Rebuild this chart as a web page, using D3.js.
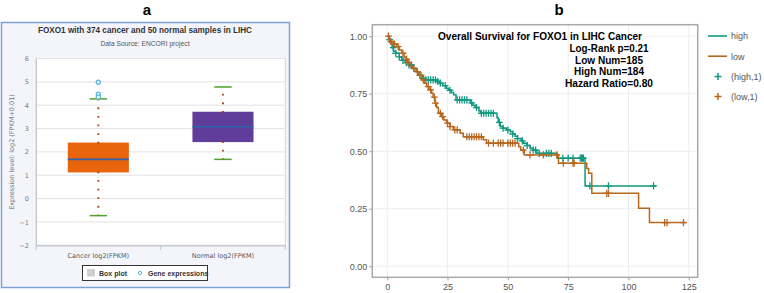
<!DOCTYPE html>
<html>
<head>
<meta charset="utf-8">
<script src="https://cdn.jsdelivr.net/npm/d3@7"></script>
<style>
  body { margin: 0; background: #fff; }
  svg { display: block; font-family: "Liberation Sans", Arial, sans-serif; }
</style>
</head>
<body>
<svg id="chart" width="764" height="293"></svg>
<script>
// ---- panel a: box plot ----
const boxCategories = ["Cancer log2(FPKM)", "Normal log2(FPKM)"];
const boxQ1 = [1.12, 2.42];
const boxMedian = [1.68, 3.08];
const boxQ3 = [2.40, 3.72];
const boxLow = [-0.73, 1.68];
const boxHigh = [4.27, 4.78];
const cancerOutliers = [4.98, 4.47, 4.35];
const exprTicks = [-2, -1, 0, 1, 2, 3, 4, 5, 6];

// ---- panel b: Kaplan-Meier ----
const highTime = [0, 0.8, 1.5, 2, 2.6, 3.5, 5, 6, 7.5, 9, 10.5, 12, 13, 14.5, 15.5, 20.5, 21.8, 23, 24.5, 25.5, 26.5, 27.5, 28.5,
  34.5, 35.5, 36.5, 38, 38.8, 45.5, 46, 46.8, 48, 49.5, 51, 52, 53, 54, 55.5, 56.5, 58, 59.2, 60.5, 62, 70.5, 82];
const highSurv = [1.0, 0.985, 0.97, 0.95, 0.935, 0.926, 0.91, 0.895, 0.885, 0.875, 0.86, 0.846, 0.83, 0.817, 0.81, 0.803, 0.796, 0.785, 0.774, 0.765, 0.755, 0.745, 0.723,
  0.71, 0.70, 0.69, 0.675, 0.665, 0.645, 0.625, 0.607, 0.60, 0.592, 0.585, 0.575, 0.565, 0.555, 0.545, 0.535, 0.525, 0.513, 0.505, 0.491, 0.47, 0.349];
const highEnd = 111.5;
const highCensor = [1, 2.5, 3.5, 5, 6.5, 8, 9, 10, 11, 13.5, 15, 16, 17, 18, 19, 20, 21, 22, 24, 26, 29, 30, 31, 32, 33, 35, 37,
  39, 40, 41, 42, 43, 44, 46.5, 48, 50, 52, 54, 56, 58, 60.5, 61.5, 63, 66, 67, 68, 72.8, 75, 77, 80, 80.5, 81, 81.3, 84, 91.7, 110.4];

const lowTime = [0, 0.7, 1.2, 2.5, 3.9, 5, 6, 7, 7.8, 8.5, 9.4, 10.5, 12, 13, 14.3, 15.3, 16.3, 17.3, 18.4, 19, 19.8, 20.5, 21.2,
  22.5, 23.5, 24.6, 26, 27.4, 30.2, 31.5, 39.8, 41.2, 54.5, 55.3, 56.8, 71, 82.7, 83.5, 84.8, 104.2, 108.7];
const lowSurv = [1.0, 0.988, 0.977, 0.966, 0.955, 0.94, 0.926, 0.91, 0.90, 0.885, 0.868, 0.86, 0.846, 0.83, 0.81, 0.795, 0.781, 0.767, 0.752, 0.735, 0.709, 0.69, 0.665,
  0.65, 0.636, 0.622, 0.607, 0.593, 0.578, 0.563, 0.55, 0.535, 0.52, 0.505, 0.484, 0.448, 0.425, 0.404, 0.317, 0.252, 0.19];
const lowEnd = 124;
const lowCensor = [0.5, 1.5, 3, 4.5, 6.5, 8, 9, 11, 12.5, 14, 15, 17, 18, 19.5, 20, 22, 23, 25, 26, 28, 29, 33, 34, 35, 36, 37, 38, 39,
  42, 44, 46, 47, 48, 50, 51, 52, 53, 56.4, 59.2, 64.7, 70.3, 73, 77, 77.5, 91, 91.7, 115, 116, 122.8];

const timeTicks = [0, 25, 50, 75, 100, 125];
const survTicks = [0, 0.25, 0.5, 0.75, 1];
const kmStats = ["Log-Rank p=0.21", "Low Num=185", "High Num=184", "Hazard Ratio=0.80"];

const svg = d3.select("#chart");

// panel letters
svg.append("text").attr("x", 147).attr("y", 15).attr("text-anchor", "middle")
  .style("font-size", "15px").style("font-weight", "bold").text("a");
svg.append("text").attr("x", 559).attr("y", 15).attr("text-anchor", "middle")
  .style("font-size", "15px").style("font-weight", "bold").text("b");

// ================= panel a =================
const pa = svg.append("g");
pa.append("rect").attr("x", 1.5).attr("y", 22.5).attr("width", 288).attr("height", 265)
  .attr("fill", "#f4f5fb").attr("stroke", "#7fa2d6").attr("stroke-width", 1.5);

const bx = d3.scaleBand().domain(boxCategories).range([36, 285.3]);
const by = d3.scaleLinear().domain([-2, 6]).range([245.3, 58.5]);

pa.append("rect").attr("x", 36).attr("y", 58.5).attr("width", 249.3).attr("height", 186.8)
  .attr("fill", "#fff").attr("stroke", "#d4d6dc").attr("stroke-width", 1);

pa.append("g").selectAll("line").data(exprTicks).join("line")
  .attr("x1", 36).attr("x2", 285.3).attr("y1", d => by(d)).attr("y2", d => by(d))
  .attr("stroke", "#e3e3e3").attr("stroke-width", 1);

const yAxisA = pa.append("g").attr("transform", "translate(36,0)")
  .call(d3.axisLeft(by).tickValues(exprTicks).tickSize(0).tickPadding(7));
yAxisA.select(".domain").attr("stroke", "#c8c8c8");
yAxisA.selectAll("text").style("font-size", "6.5px").attr("fill", "#777").style("font-family", "'DejaVu Sans', sans-serif");

const xAxisA = pa.append("g").attr("transform", "translate(0,245.3)")
  .call(d3.axisBottom(bx).tickSize(0).tickPadding(8));
xAxisA.select(".domain").attr("stroke", "#c0c6d2").attr("stroke-width", 1.2);
xAxisA.selectAll("text").style("font-size", "6.5px").attr("fill", "#555").style("font-family", "'DejaVu Sans', sans-serif");
pa.append("g").selectAll("line").data([36, 36 + bx.step(), 285.3]).join("line")
  .attr("x1", d => d).attr("x2", d => d).attr("y1", 245.3).attr("y2", 250)
  .attr("stroke", "#c0c6d2");

pa.append("text").attr("transform", "translate(14,152) rotate(-90)").attr("text-anchor", "middle")
  .style("font-size", "6.5px").style("font-family", "'DejaVu Sans', sans-serif").attr("fill", "#777")
  .text("Expression level: log2 (FPKM+0.01)");

pa.append("text").attr("x", 145).attr("y", 33).attr("text-anchor", "middle")
  .style("font-size", "9px").style("font-weight", "bold").attr("fill", "#333")
  .attr("textLength", 214).attr("lengthAdjust", "spacingAndGlyphs")
  .text("FOXO1 with 374 cancer and 50 normal samples in LIHC");
pa.append("text").attr("x", 145).attr("y", 45.5).attr("text-anchor", "middle")
  .style("font-size", "7px").attr("fill", "#555")
  .attr("textLength", 89).attr("lengthAdjust", "spacingAndGlyphs")
  .text("Data Source: ENCORI project");

const boxW = bx.bandwidth() * 0.49;
const boxes = boxCategories.map((c, i) => ({
  c, q1: boxQ1[i], med: boxMedian[i], q3: boxQ3[i], lo: boxLow[i], hi: boxHigh[i],
  color: i === 0 ? "#e8650c" : "#603d9b"
}));
const bg = pa.append("g").selectAll("g").data(boxes).join("g")
  .attr("transform", d => `translate(${bx(d.c) + bx.bandwidth() / 2},0)`);

bg.append("rect").attr("x", -boxW / 2).attr("width", boxW)
  .attr("y", d => by(d.q3)).attr("height", d => by(d.q1) - by(d.q3))
  .attr("fill", d => d.color);
bg.append("line").attr("x1", -boxW / 2).attr("x2", boxW / 2)
  .attr("y1", d => by(d.med)).attr("y2", d => by(d.med))
  .attr("stroke", "#2f62aa").attr("stroke-width", 1.6);
// dotted whiskers
bg.append("line").attr("x1", 0).attr("x2", 0)
  .attr("y1", d => by(d.q3) + 1).attr("y2", d => by(d.hi))
  .attr("stroke", "#b23a22").attr("stroke-width", 1.8).attr("stroke-dasharray", "1.8 6.8");
bg.append("line").attr("x1", 0).attr("x2", 0)
  .attr("y1", d => by(d.q1) - 1).attr("y2", d => by(d.lo))
  .attr("stroke", "#b23a22").attr("stroke-width", 1.8).attr("stroke-dasharray", "1.8 6.8");
bg.selectAll(".cap").data(d => [d.lo, d.hi]).join("line")
  .attr("x1", -8.7).attr("x2", 8.7).attr("y1", v => by(v)).attr("y2", v => by(v))
  .attr("stroke", "#4ea22a").attr("stroke-width", 1.5);

pa.append("g").selectAll("circle").data(cancerOutliers).join("circle")
  .attr("cx", bx(boxCategories[0]) + bx.bandwidth() / 2).attr("cy", d => by(d)).attr("r", 2.1)
  .attr("fill", "#fff").attr("stroke", "#5bb4e4").attr("stroke-width", 1.2);

// legend a
const la = pa.append("g");
la.append("rect").attr("x", 82.5).attr("y", 265.5).attr("width", 125).attr("height", 15)
  .attr("fill", "#fff").attr("stroke", "#333").attr("stroke-width", 1);
la.append("rect").attr("x", 87).attr("y", 269).attr("width", 8).attr("height", 7.5).attr("fill", "#cfcfcf");
la.append("text").attr("x", 99).attr("y", 275.5).style("font-size", "7px").style("font-weight", "bold")
  .attr("fill", "#333").text("Box plot");
la.append("circle").attr("cx", 140).attr("cy", 273).attr("r", 1.6).attr("fill", "none")
  .attr("stroke", "#5bb4e4").attr("stroke-width", 1);
la.append("text").attr("x", 148).attr("y", 275.5).style("font-size", "7px").style("font-weight", "bold")
  .attr("fill", "#333").text("Gene expressions");

// ================= panel b =================
const pb = svg.append("g");
const kx = d3.scaleLinear().domain([-6.2, 128.7]).range([372.3, 697.7]);
const ky = d3.scaleLinear().domain([-0.048, 1.05]).range([277.3, 24.7]);

pb.append("g").selectAll("line").data(timeTicks).join("line")
  .attr("x1", d => kx(d)).attr("x2", d => kx(d)).attr("y1", 24.7).attr("y2", 277.3)
  .attr("stroke", "#eeeeee");
pb.append("g").selectAll("line").data(survTicks).join("line")
  .attr("y1", d => ky(d)).attr("y2", d => ky(d)).attr("x1", 372.3).attr("x2", 697.7)
  .attr("stroke", "#eeeeee");

const xAxisB = pb.append("g").attr("transform", "translate(0,277.3)")
  .call(d3.axisBottom(kx).tickValues(timeTicks).tickSize(3).tickPadding(3));
const yAxisB = pb.append("g").attr("transform", "translate(372.3,0)")
  .call(d3.axisLeft(ky).tickValues(survTicks).tickFormat(d3.format(".2f")).tickSize(3).tickPadding(2));
[xAxisB, yAxisB].forEach(a => {
  a.select(".domain").remove();
  a.selectAll(".tick line").attr("stroke", "#999");
  a.selectAll("text").style("font-size", "9px").attr("fill", "#555");
});
pb.append("rect").attr("x", 372.3).attr("y", 24.7).attr("width", 325.4).attr("height", 252.6)
  .attr("fill", "none").attr("stroke", "#a8a8a8").attr("stroke-width", 1.5);

const kmLine = d3.line().x(d => kx(d[0])).y(d => ky(d[1])).curve(d3.curveStepAfter);
const series = [
  { time: highTime, surv: highSurv, end: highEnd, censor: highCensor, color: "#119880" },
  { time: lowTime, surv: lowSurv, end: lowEnd, censor: lowCensor, color: "#b8671f" }
];
series.forEach(s => {
  const pts = s.time.map((t, i) => [t, s.surv[i]]);
  pts.push([s.end, s.surv[s.surv.length - 1]]);
  pb.append("path").datum(pts).attr("d", kmLine).attr("fill", "none")
    .attr("stroke", s.color).attr("stroke-width", 1.5);
  const survAt = t => s.surv[Math.max(0, d3.bisectRight(s.time, t) - 1)];
  pb.append("g").selectAll("path").data(s.censor).join("path")
    .attr("transform", t => `translate(${kx(t)},${ky(survAt(t))})`)
    .attr("d", "M-3.4,0H3.4M0,-3.6V3.6").attr("stroke", s.color).attr("stroke-width", 1.3);
});

pb.append("text").attr("x", 540).attr("y", 40).attr("text-anchor", "middle")
  .style("font-size", "11px").style("font-weight", "bold").attr("fill", "#000")
  .attr("textLength", 204).attr("lengthAdjust", "spacingAndGlyphs")
  .text("Overall Survival for FOXO1 in LIHC Cancer");
const statW = [79, 68, 70, 88];
pb.append("g").selectAll("text").data(kmStats).join("text")
  .attr("x", 609).attr("y", (d, i) => 52 + i * 11.5).attr("text-anchor", "middle")
  .style("font-size", "11px").style("font-weight", "bold").attr("fill", "#000")
  .attr("textLength", (d, i) => statW[i]).attr("lengthAdjust", "spacingAndGlyphs")
  .text(d => d);

// legend b
const lb = pb.append("g");
const legItems = [
  { label: "high", color: "#119880", type: "line" },
  { label: "low", color: "#b8671f", type: "line" },
  { label: "(high,1)", color: "#119880", type: "plus" },
  { label: "(low,1)", color: "#b8671f", type: "plus" }
];
legItems.forEach((d, i) => {
  const y = 36 + i * 20.2;
  if (d.type === "line") {
    lb.append("line").attr("x1", 708).attr("x2", 727).attr("y1", y).attr("y2", y)
      .attr("stroke", d.color).attr("stroke-width", 1.6);
  } else {
    lb.append("path").attr("transform", `translate(718,${y})`).attr("d", "M-3.5,0H3.5M0,-3.5V3.5")
      .attr("stroke", d.color).attr("stroke-width", 1.5);
  }
  lb.append("text").attr("x", 731).attr("y", y + 3.3).style("font-size", "9px").attr("fill", "#555")
    .text(d.label);
});
</script>
</body>
</html>
